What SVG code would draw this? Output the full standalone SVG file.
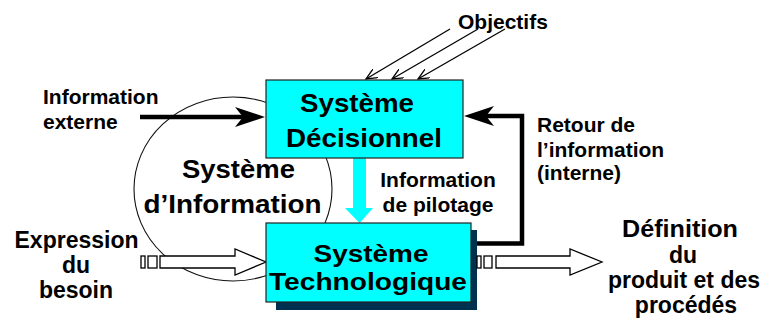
<svg xmlns="http://www.w3.org/2000/svg" width="763" height="324" viewBox="0 0 763 324">
<style>
text{font-family:"Liberation Sans",Arial,sans-serif;font-weight:bold;fill:#000}
.box{fill:#00FFFF;stroke:#222;stroke-width:1.2}
.big{font-size:25.5px}
.big2{font-size:24px}
.lbl{font-size:21px}
.lbl2{font-size:23px}
.hollow{fill:#fff;stroke:#000;stroke-width:1.3}
.thick{fill:none;stroke:#000;stroke-width:4.5}
.thin{fill:none;stroke:#000;stroke-width:1.3}
</style>
<defs>
<marker id="open" viewBox="0 0 12 10" refX="11" refY="5" markerWidth="12" markerHeight="10" markerUnits="userSpaceOnUse" orient="auto">
<path d="M0,0 L11,5 L0,10" fill="none" stroke="#000" stroke-width="1.3"/>
</marker>
</defs>
<rect width="763" height="324" fill="#fff"/>
<g id="systeme-information">
<ellipse cx="233" cy="189" rx="99" ry="92" fill="none" stroke="#111" stroke-width="1.1"/>
<text class="big" x="182" y="178" textLength="113" lengthAdjust="spacingAndGlyphs">Système</text>
<text class="big" x="143.5" y="213" textLength="178" lengthAdjust="spacingAndGlyphs">d’Information</text>
</g>
<g id="connectors">
<line class="thin" x1="450" y1="29" x2="366" y2="79" marker-end="url(#open)"/>
<line class="thin" x1="478" y1="29" x2="392" y2="79" marker-end="url(#open)"/>
<line class="thin" x1="505" y1="29" x2="418" y2="79" marker-end="url(#open)"/>
<line class="thick" x1="140" y1="117" x2="246" y2="117"/>
<polygon points="265,117 235,107 243,117 235,127" fill="#000"/>
<polyline class="thick" points="471,243.5 522,243.5 522,116 484,116"/>
<polygon points="464,116 494,106 486,116 494,126" fill="#000"/>
<polygon points="353,158 366,158 366,208 373,208 359.5,223 345,208 353,208" fill="#00FFFF"/>
<rect class="hollow" x="141" y="256" width="4" height="12"/>
<rect class="hollow" x="148" y="256" width="9" height="12"/>
<polygon class="hollow" points="160,256 235,256 235,249 266,262 235,275 235,268 160,268"/>
<rect class="hollow" x="484" y="256" width="8" height="12"/>
<polygon class="hollow" points="496,256 570,256 570,249 602,262 570,275 570,268 496,268"/>
</g>
<g id="systeme-decisionnel">
<rect class="box" x="266" y="80" width="197" height="78"/>
<text class="big" x="300" y="112" textLength="114" lengthAdjust="spacingAndGlyphs">Système</text>
<text class="big" x="286" y="147" textLength="156" lengthAdjust="spacingAndGlyphs">Décisionnel</text>
</g>
<g id="systeme-technologique">
<rect x="276" y="230" width="201" height="80" fill="#00304F"/>
<rect class="hollow" x="477" y="256" width="4" height="12"/>
<rect class="box" x="266" y="223" width="205" height="79"/>
<text class="big2" x="313.5" y="262" textLength="115" lengthAdjust="spacingAndGlyphs">Système</text>
<text class="big2" x="269" y="290" textLength="198" lengthAdjust="spacingAndGlyphs">Technologique</text>
</g>
<g id="objectifs">
<text class="lbl" x="458" y="29">Objectifs</text>
</g>
<g id="information-externe">
<text class="lbl" x="43" y="104">Information</text>
<text class="lbl" x="43" y="129">externe</text>
</g>
<g id="information-pilotage">
<text class="lbl" x="438" y="187" text-anchor="middle">Information</text>
<text class="lbl" x="438" y="212" text-anchor="middle">de pilotage</text>
</g>
<g id="retour-information">
<text class="lbl" x="537" y="132">Retour de</text>
<text class="lbl" x="537" y="157">l’information</text>
<text class="lbl" x="537" y="180">(interne)</text>
</g>
<g id="expression-besoin">
<text class="lbl2" x="76.5" y="248" text-anchor="middle">Expression</text>
<text class="lbl2" x="76" y="273" text-anchor="middle">du</text>
<text class="lbl2" x="76" y="298" text-anchor="middle">besoin</text>
</g>
<g id="definition-produit">
<text class="lbl2" x="622" y="237" textLength="116" lengthAdjust="spacingAndGlyphs">Définition</text>
<text class="lbl2" x="683" y="263" text-anchor="middle">du</text>
<text class="lbl2" x="684" y="288" text-anchor="middle">produit et des</text>
<text class="lbl2" x="686" y="313" text-anchor="middle">procédés</text>
</g>
</svg>
